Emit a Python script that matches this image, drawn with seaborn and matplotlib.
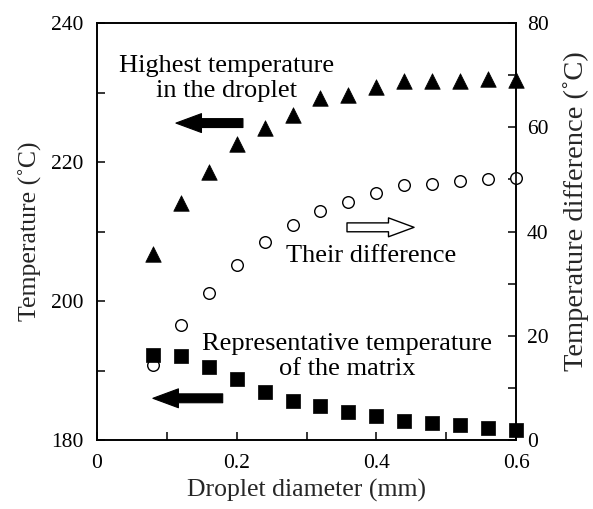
import matplotlib
matplotlib.use("Agg")
import matplotlib.pyplot as plt
import seaborn as sns
import pandas as pd

diameter = [0.08, 0.12, 0.16, 0.20, 0.24, 0.28, 0.32, 0.36, 0.40, 0.44, 0.48, 0.52, 0.56, 0.60]
highest_temp = [206.8, 214.1, 218.6, 222.6, 224.9, 226.8, 229.2, 229.6, 230.8, 231.7, 231.7, 231.7, 231.9, 231.8]
matrix_temp = [192.2, 192.1, 190.5, 188.8, 186.9, 185.6, 184.9, 184.0, 183.5, 182.7, 182.4, 182.2, 181.7, 181.4]
difference = [14.4, 22.1, 28.2, 33.6, 38.0, 41.2, 43.9, 45.7, 47.4, 48.9, 49.1, 49.7, 50.1, 50.3]

x_ticks = [0, 0.1, 0.2, 0.3, 0.4, 0.5, 0.6]
x_ticklabels = ["0", "", "0.2", "", "0.4", "", "0.6"]
y_ticks = [180, 190, 200, 210, 220, 230, 240]
y_ticklabels = ["180", "", "200", "", "220", "", "240"]
y2_ticks = [0, 10, 20, 30, 40, 50, 60, 70, 80]
y2_ticklabels = ["0", "", "20", "", "40", "", "60", "", "80"]

df = pd.DataFrame({"d": diameter, "high": highest_temp, "matrix": matrix_temp, "diff": difference})

sns.set_theme(style="white")
plt.rcParams["font.family"] = ["Liberation Serif", "DejaVu Serif"]

fig = plt.figure(figsize=(5.93, 5.09), dpi=100)
ax = fig.add_axes([97/593, 1-440/509, (516-97)/593, (440-23)/509])
ax2 = ax.twinx()

sns.scatterplot(data=df, x="d", y="high", marker="^", s=125, color="black",
                edgecolor="black", linewidth=0.5, ax=ax, zorder=3, clip_on=False)
sns.scatterplot(data=df, x="d", y="matrix", marker="s", s=90, color="black",
                edgecolor="black", linewidth=0.5, ax=ax, zorder=3, clip_on=False)
sns.scatterplot(data=df, x="d", y="diff", marker="o", s=70, facecolor="white",
                edgecolor="black", linewidth=1.0, ax=ax2, zorder=3, clip_on=False)

ax.set_xlim(0, 0.6)
ax.set_ylim(180, 240)
ax2.set_ylim(0, 80)
ax.set_xticks(x_ticks)
ax.set_xticklabels(x_ticklabels)
ax.set_yticks(y_ticks)
ax.set_yticklabels(y_ticklabels)
ax2.set_yticks(y2_ticks)
ax2.set_yticklabels(y2_ticklabels)

ax.set_xlabel("Droplet diameter (mm)", fontsize=18.5, labelpad=4)
ax.set_ylabel("Temperature (˚C)", fontsize=18.5, labelpad=6)
ax2.set_ylabel("Temperature difference (˚C)", fontsize=20.5)
ax2.yaxis.set_label_coords(1.113, 0.55)

for a in (ax, ax2):
    for sp in a.spines.values():
        sp.set_color("black")
        sp.set_linewidth(1.2)
ax.tick_params(axis="x", direction="in", length=6, width=1.1, labelsize=15.5, pad=10, colors="black", top=False, bottom=True)
ax.tick_params(axis="y", direction="in", length=6, width=1.1, labelsize=15.5, pad=10, colors="black", left=True, right=False)
ax2.tick_params(axis="y", direction="in", length=6, width=1.1, labelsize=15.5, pad=8, colors="black", right=True, left=False)
ax2.tick_params(axis="x", bottom=False, top=False)

tfs = 19
ax.text(0.185, 232.0, "Highest temperature\nin the droplet", ha="center", va="center",
        fontsize=tfs, linespacing=1.2, color="black")
ax.text(0.392, 206.5, "Their difference", ha="center", va="center", fontsize=tfs, color="black")
ax.text(0.358, 192.0, "Representative temperature\nof the matrix", ha="center", va="center",
        fontsize=tfs, linespacing=1.15, color="black")

style = "simple,head_length=1.15,head_width=0.85,tail_width=0.4"
ax.annotate("", xy=(0.113, 225.6), xytext=(0.209, 225.6),
            arrowprops=dict(arrowstyle=style, mutation_scale=16, fc="black", ec="black", lw=0.8,
                            shrinkA=0, shrinkB=0))
ax.annotate("", xy=(0.080, 186.0), xytext=(0.180, 186.0),
            arrowprops=dict(arrowstyle=style, mutation_scale=16, fc="black", ec="black", lw=0.8,
                            shrinkA=0, shrinkB=0))
ax.annotate("", xy=(0.454, 210.6), xytext=(0.358, 210.6),
            arrowprops=dict(arrowstyle=style, mutation_scale=16, fc="white", ec="black", lw=1.0,
                            shrinkA=0, shrinkB=0))

ax.set_zorder(ax2.get_zorder() + 1)
ax.patch.set_visible(False)

fig.savefig("out.png", dpi=100, facecolor="white")
